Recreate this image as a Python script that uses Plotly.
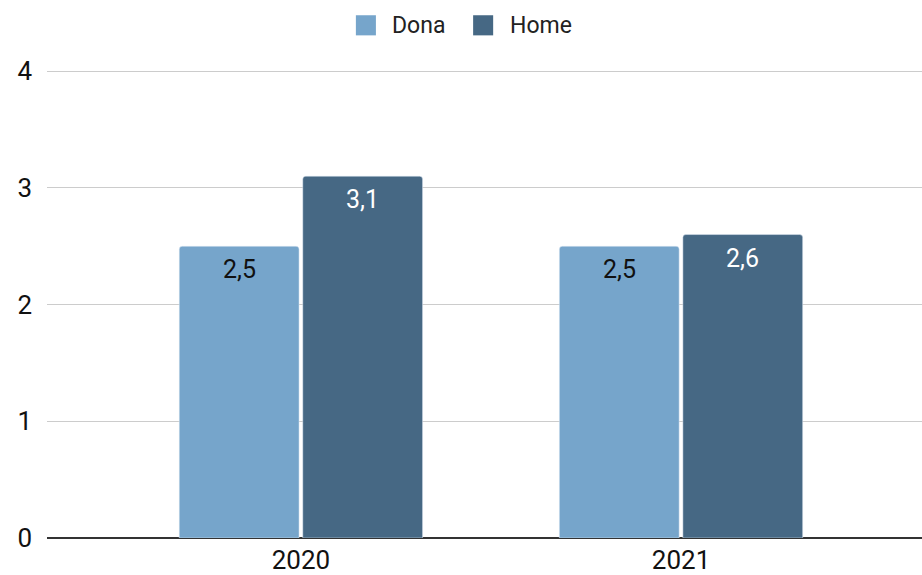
import plotly.graph_objects as go

years = ["2020", "2021"]
dona = [2.5, 2.5]
home = [3.1, 2.6]

DONA_COLOR = "#76a5cb"
HOME_COLOR = "#466884"
BAR_OFFSET = 0.1625  # half of one bar slot in category units

fig = go.Figure()
fig.add_trace(go.Bar(name="Dona", x=years, y=dona, marker_color=DONA_COLOR))
fig.add_trace(go.Bar(name="Home", x=years, y=home, marker_color=HOME_COLOR))

# value labels just inside the top of each bar
for i, (d, h) in enumerate(zip(dona, home)):
    for xv, val, col in ((i - BAR_OFFSET, d, "#111111"), (i + BAR_OFFSET, h, "#ffffff")):
        fig.add_annotation(
            x=xv, y=val, xref="x", yref="y", text=f"{val:.1f}".replace(".", ","),
            showarrow=False, yanchor="top", yshift=-7,
            font=dict(family="Roboto, sans-serif", size=25, color=col),
        )

# legend drawn as swatches and labels above the plot
legend_items = [("Dona", DONA_COLOR, 0.353, 0.392), ("Home", HOME_COLOR, 0.487, 0.527)]
for name, col, x0, xt in legend_items:
    fig.add_shape(
        type="rect", xref="paper", yref="paper",
        x0=x0, x1=x0 + 0.0229, y0=1.074, y1=1.117,
        fillcolor=col, line=dict(width=0), layer="above",
    )
    fig.add_annotation(
        x=xt, y=1.0955, xref="paper", yref="paper", text=name,
        showarrow=False, xanchor="left", yanchor="middle",
        font=dict(family="Roboto, sans-serif", size=23, color="#222222"),
    )

fig.update_layout(
    width=922, height=575,
    margin=dict(l=47, r=0, t=70, b=37),
    paper_bgcolor="white", plot_bgcolor="white",
    font=dict(family="Roboto, Arial, sans-serif", size=26, color="#111111"),
    barmode="group", bargap=0.35, bargroupgap=0.03,
    barcornerradius=3,
    showlegend=False,
)
fig.update_xaxes(
    type="category", range=[-0.668, 1.634],
    showgrid=False, showline=False, zeroline=False,
    ticks="", ticklabelstandoff=4, tickfont=dict(size=26, color="#111111"),
)
fig.update_yaxes(
    range=[0, 4.01], tickvals=[0, 1, 2, 3, 4], tickformat="d",
    showgrid=True, gridcolor="#cccccc", gridwidth=1,
    zeroline=True, zerolinecolor="#333333", zerolinewidth=1.5,
    showline=False, ticks="", ticklabelstandoff=14,
    tickfont=dict(size=26, color="#111111"),
)

fig.write_html("out.html")
